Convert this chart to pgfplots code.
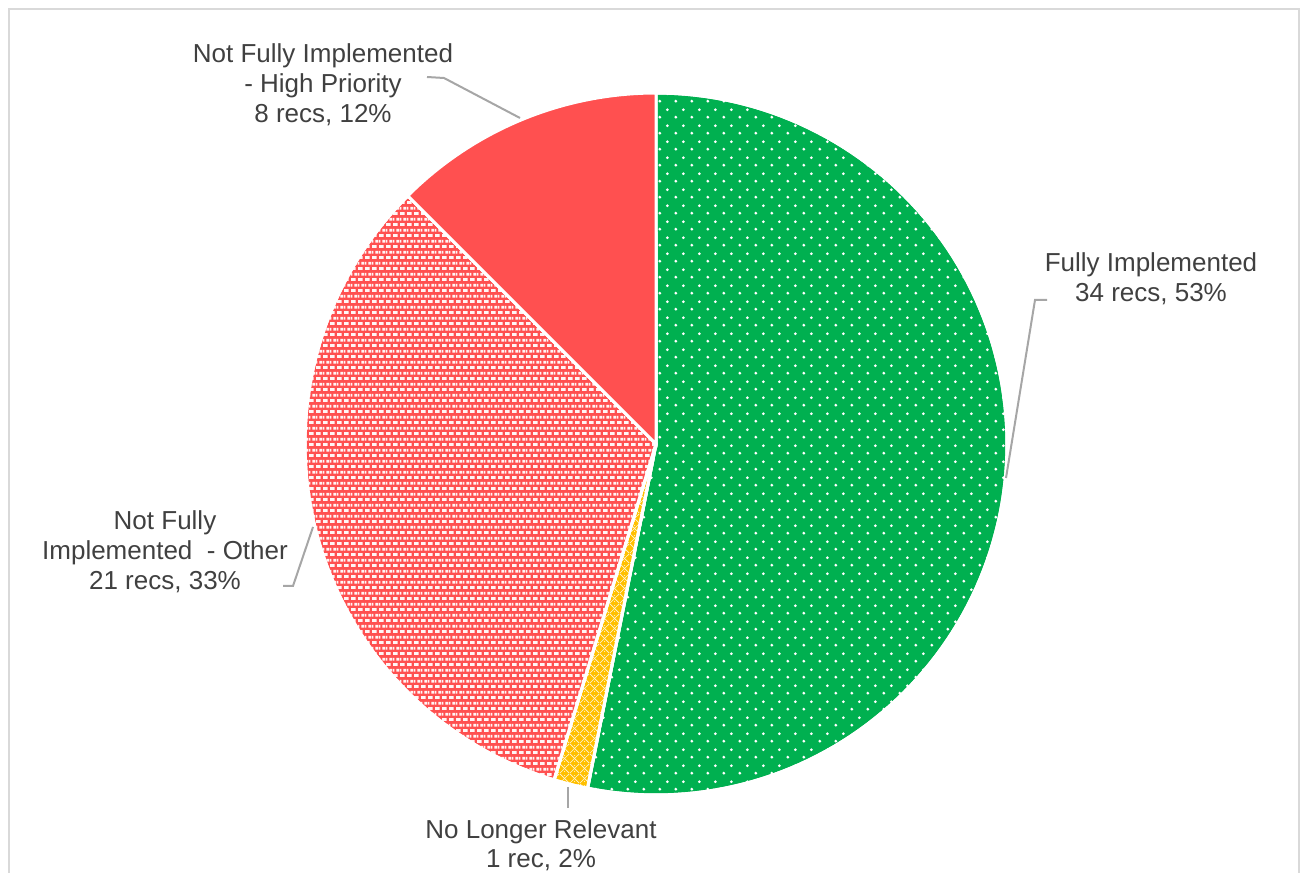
\documentclass[border=0pt]{standalone}
\usepackage{pgfplots}
\pgfplotsset{compat=1.18}
\usepackage{pgfplotstable}
\usetikzlibrary{patterns.meta}
\usepackage{fontspec}
\setmainfont{Liberation Sans}
\definecolor{cgreen}{HTML}{00B050}
\definecolor{cred}{HTML}{FF5050}
\definecolor{corange}{HTML}{FFC000}
\definecolor{ctext}{HTML}{404040}
\definecolor{cline}{HTML}{A6A6A6}
\definecolor{cframe}{HTML}{D9D9D9}

\tikzdeclarepattern{
  name=gdots, type=uncolored,
  bottom left={(0pt,0pt)}, top right={(8pt,8pt)}, tile size={(8pt,8pt)},
  code={\fill (2pt,2pt) circle (0.8pt); \fill (6pt,6pt) circle (0.8pt);}
}
\tikzdeclarepattern{
  name=smallcheck, type=uncolored,
  bottom left={(0pt,0pt)}, top right={(3.36pt,5.34pt)}, tile size={(3.36pt,5.34pt)},
  code={\fill (0.1pt,0.6pt) rectangle (2.4pt,2.0pt);
        \fill (1.78pt,3.27pt) rectangle (3.36pt,4.67pt);
        \fill (0pt,3.27pt) rectangle (0.72pt,4.67pt);}
}
\tikzdeclarepattern{
  name=trellis, type=uncolored,
  bottom left={(0pt,0pt)}, top right={(5pt,5pt)}, tile size={(5pt,5pt)},
  code={\draw[line width=0.35pt] (0,0) -- (5pt,5pt); \draw[line width=0.35pt] (0,5pt) -- (5pt,0);
        \fill (2.5pt,0.9pt) circle (0.3pt); \fill (2.5pt,4.1pt) circle (0.3pt);}
}

\pgfplotstableread{
status count
Fully 34
NoLonger 1
Other 21
High 8
}\slices

\pgfplotstablegetelem{0}{count}\of\slices \edef\cA{\pgfplotsretval}
\pgfplotstablegetelem{1}{count}\of\slices \edef\cB{\pgfplotsretval}
\pgfplotstablegetelem{2}{count}\of\slices \edef\cC{\pgfplotsretval}
\pgfplotstablegetelem{3}{count}\of\slices \edef\cD{\pgfplotsretval}
\pgfmathsetmacro\tot{\cA+\cB+\cC+\cD}
\pgfmathsetmacro\aZero{90}
\pgfmathsetmacro\aOne{\aZero-360*\cA/\tot}
\pgfmathsetmacro\aTwo{\aOne-360*\cB/\tot}
\pgfmathsetmacro\aThree{\aTwo-360*\cC/\tot}
\pgfmathsetmacro\aFour{\aThree-360*\cD/\tot}

\newcommand\cx{656}
\newcommand\cy{429}
\newcommand\rr{351}

\begin{document}
\begin{tikzpicture}
\begin{axis}[
  width=651pt, height=436.5pt, scale only axis,
  xmin=0, xmax=1302, ymin=0, ymax=873,
  hide axis, clip=false,
]
% frame
\draw[cframe, line width=1pt] (9,-20) -- (9,864) -- (1299,864) -- (1299,-20);

% slices
\addplot[fill=cgreen, draw=white, line width=1.5pt, domain=\aOne:\aZero, samples=120, variable=\t,
  postaction={pattern={gdots}, pattern color=white}]
  ({\cx+\rr*cos(\t)},{\cy+\rr*sin(\t)}) -- (\cx,\cy) -- cycle;
\addplot[fill=corange, draw=white, line width=1.5pt, domain=\aTwo:\aOne, samples=10, variable=\t,
  postaction={pattern={trellis}, pattern color=white!85!corange}]
  ({\cx+\rr*cos(\t)},{\cy+\rr*sin(\t)}) -- (\cx,\cy) -- cycle;
\addplot[fill=cred, draw=white, line width=1.5pt, domain=\aThree:\aTwo, samples=80, variable=\t,
  postaction={pattern={smallcheck}, pattern color=white!96!red}]
  ({\cx+\rr*cos(\t)},{\cy+\rr*sin(\t)}) -- (\cx,\cy) -- cycle;
\addplot[fill=cred, draw=white, line width=1.5pt, domain=\aFour:\aThree, samples=40, variable=\t]
  ({\cx+\rr*cos(\t)},{\cy+\rr*sin(\t)}) -- (\cx,\cy) -- cycle;

% leader lines
\addplot[cline, line width=1pt] coordinates {(427,796) (444,795) (520,755)};
\addplot[cline, line width=1pt] coordinates {(1047,573) (1035,573) (1006,395)};
\addplot[cline, line width=1pt] coordinates {(283,287) (293,287) (313,346)};
\addplot[cline, line width=1pt] coordinates {(568,86) (568,65)};

% labels
\begin{scope}[every node/.style={anchor=base, text=ctext, font=\fontsize{13}{15}\selectfont, inner sep=0pt}]
\node at (323,810) {Not Fully Implemented};
\node at (323,780) {- High Priority};
\node at (323,750) {8 recs, 12\%};
\node at (1151,601) {Fully Implemented};
\node at (1151,571) {34 recs, 53\%};
\node at (165,343) {Not Fully};
\node at (165,313) {Implemented~ - Other};
\node at (165,283) {21 recs, 33\%};
\node at (541,34) {No Longer Relevant};
\node at (541,5) {1 rec, 2\%};
\end{scope}
\end{axis}
\pgfresetboundingbox
\path (0,0) rectangle (651pt,436.5pt);
\end{tikzpicture}
\end{document}
